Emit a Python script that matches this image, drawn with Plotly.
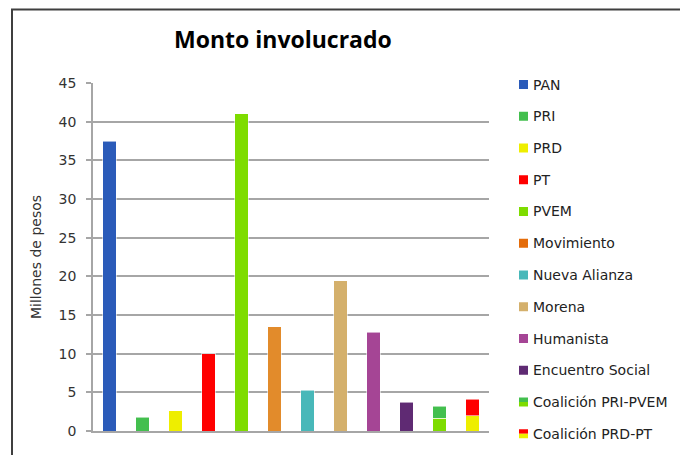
import plotly.graph_objects as go

# ---- data ----
categories = ["PAN", "PRI", "PRD", "PT", "PVEM", "Movimiento", "Nueva Alianza",
              "Morena", "Humanista", "Encuentro Social",
              "Coalición PRI-PVEM", "Coalición PRD-PT"]
# bottom segment of every bar (single parties = full value)
base_values = [37.5, 1.8, 2.65, 10.0, 41.0, 13.5, 5.3, 19.4, 12.8, 3.7, 1.65, 2.0]
base_colors = ["#2B5BB9", "#43BF4E", "#EEEE00", "#FF0000", "#7EDC00", "#E28B2B",
               "#48B8B9", "#D4B06C", "#A54595", "#5F2A73", "#7EDC00", "#EEEE00"]
# top segment of the coalition bars
coal_categories = ["Coalición PRI-PVEM", "Coalición PRD-PT"]
coal_top_values = [1.55, 2.1]
coal_top_colors = ["#43BF4E", "#FF0000"]

legend_names = categories
legend_colors = ["#2B5BB9", "#43BF4E", "#EEEE00", "#FF0000", "#7EDC00", "#E46C0A",
                 "#48B8B9", "#D4B06C", "#A54595", "#5F2A73",
                 ("#43BF4E", "#7EDC00"), ("#FF0000", "#EEEE00")]

title_text = "Monto involucrado"
y_title = "Millones de pesos"
y_ticks = [0, 5, 10, 15, 20, 25, 30, 35, 40, 45]

# ---- layout geometry (page body has an 8px margin -> shift by OFF) ----
W, H = 688, 455
OFF = 8
L, R, T, B = 93 - OFF, 688 - (489 - OFF), 83 - OFF, 455 - (431 - OFF)
PW, PH = W - L - R, H - T - B

def px(x):  # screen pixel x -> paper
    return (x - OFF - L) / PW

def py(y):  # screen pixel y -> paper
    return (H - B - (y - OFF)) / PH

fig = go.Figure()
fig.add_trace(go.Bar(x=categories, y=base_values, marker=dict(color=base_colors,
                     line=dict(color="rgba(255,255,255,0.55)", width=1)),
                     showlegend=False))
fig.add_trace(go.Bar(x=coal_categories, y=coal_top_values, marker=dict(color=coal_top_colors,
                     line=dict(color="rgba(255,255,255,0.55)", width=1)),
                     showlegend=False))

grid = "#A6A6A6"
fig.update_layout(
    width=W, height=H,
    margin=dict(l=L, r=R, t=T, b=B),
    paper_bgcolor="white", plot_bgcolor="white",
    barmode="stack", bargap=0.59,
    showlegend=False,
    font=dict(family="DejaVu Sans", color="#333333"),
    xaxis=dict(categoryorder="array", categoryarray=categories,
               showticklabels=False, showgrid=False, ticks="",
               showline=True, linecolor=grid, linewidth=1.5, fixedrange=True),
    yaxis=dict(range=[0, 45], tickvals=y_ticks, showgrid=True, gridcolor=grid,
               gridwidth=1.5, showline=True, linecolor=grid, linewidth=1.5,
               ticks="outside", ticklen=5, tickcolor=grid, tickwidth=1.5,
               ticklabelstandoff=7,
               tickfont=dict(size=14, color="#333333", family="DejaVu Sans"),
               zeroline=False,
               title=dict(text=y_title, font=dict(size=14, color="#333333",
                                                   family="DejaVu Sans"),
                          standoff=14)),
)

shapes = []
annotations = []
# outer frame
shapes.append(dict(type="rect", xref="paper", yref="paper",
                   x0=px(12), x1=px(W + 30), y0=py(H + 30), y1=py(9.5),
                   line=dict(color="#3F3F3F", width=2), fillcolor="rgba(0,0,0,0)",
                   layer="above"))
# title
annotations.append(dict(text="<b>" + title_text + "</b>", xref="paper", yref="paper",
                        x=px(283), y=py(39), showarrow=False, xanchor="center",
                        yanchor="middle",
                        font=dict(family="Open Sans", size=23, color="#000000")))
# legend
y0, dy = 84.5, 31.75
for i, (name, col) in enumerate(zip(legend_names, legend_colors)):
    yc = y0 + i * dy
    if isinstance(col, tuple):
        shapes.append(dict(type="rect", xref="paper", yref="paper",
                           x0=px(519), x1=px(528), y0=py(yc), y1=py(yc - 4.5),
                           line=dict(width=0), fillcolor=col[0]))
        shapes.append(dict(type="rect", xref="paper", yref="paper",
                           x0=px(519), x1=px(528), y0=py(yc + 4.5), y1=py(yc),
                           line=dict(width=0), fillcolor=col[1]))
    else:
        shapes.append(dict(type="rect", xref="paper", yref="paper",
                           x0=px(519), x1=px(528), y0=py(yc + 4.5), y1=py(yc - 4.5),
                           line=dict(width=0), fillcolor=col))
    annotations.append(dict(text=name, xref="paper", yref="paper", x=px(531),
                            y=py(yc), xanchor="left", yanchor="middle",
                            showarrow=False,
                            font=dict(family="DejaVu Sans", size=14, color="#222222")))

fig.update_layout(shapes=shapes, annotations=annotations)
fig.write_html("out.html")
